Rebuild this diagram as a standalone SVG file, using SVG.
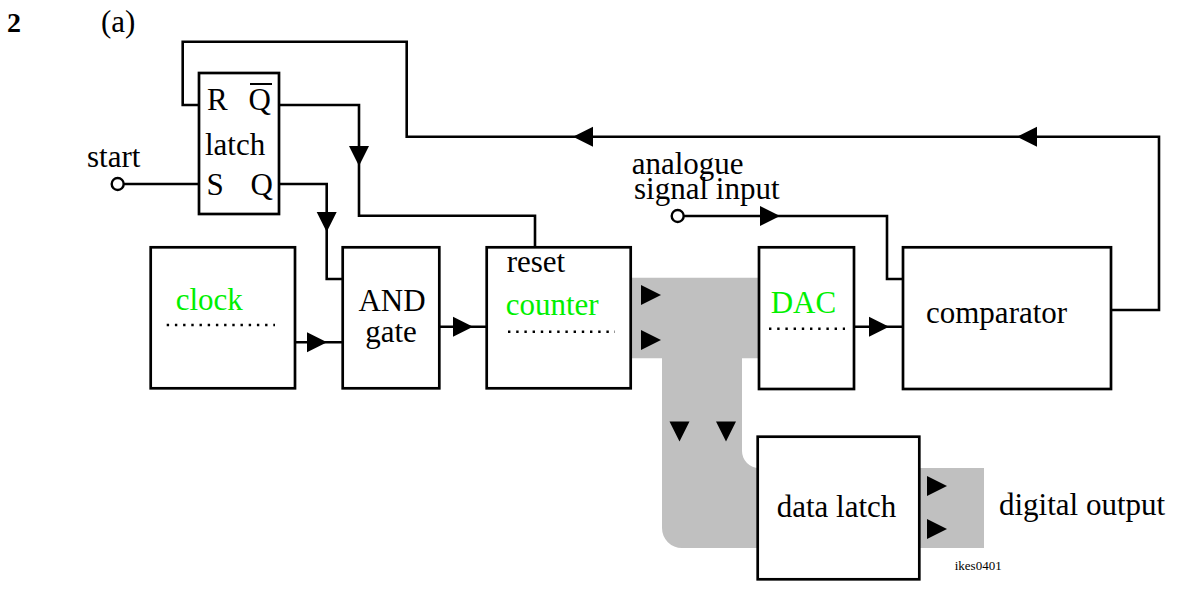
<svg xmlns="http://www.w3.org/2000/svg" xmlns:xlink="http://www.w3.org/1999/xlink" width="1178" height="592" viewBox="0 0 1178 592">
  <style>
    .box { fill: #ffffff; stroke: #000000; stroke-width: 2.7; }
    .wire { fill: none; stroke: #000000; stroke-width: 2.6; }
    .term { fill: #ffffff; stroke: #000000; stroke-width: 2.4; }
    .dots { fill: none; stroke: #000000; stroke-width: 2.4; stroke-dasharray: 2.4 5.8; }
    .bus { fill: #c0c0c0; stroke: none; }
    text { font-family: 'Liberation Serif', 'DejaVu Serif', serif; font-size: 31px; fill: #000000; }
    .g { fill: #00f000; }
    .small { font-size: 13px; }
    .bold { font-weight: bold; font-size: 28px; }
  </style>
  <defs>
    <!-- arrowhead pointing right, tip at origin -->
    <path id="ah" d="M0 0 L-20 -10 L-20 10 Z" fill="#000000"/>
  </defs>

  <!-- heading -->
  <text class="bold" x="7" y="32">2</text>
  <text x="101" y="32">(a)</text>

  <!-- data bus (grey) -->
  <g id="bus">
    <path class="bus" d="M630 277.7 H759 V358.3 H742 V451 A17 17 0 0 0 759 468 H984 V548 H682 A20 20 0 0 1 662 528 V358.3 H630 Z"/>
    <use xlink:href="#ah" transform="translate(661,295)"/>
    <use xlink:href="#ah" transform="translate(661,340)"/>
    <use xlink:href="#ah" transform="translate(679.5,441.5) rotate(90)"/>
    <use xlink:href="#ah" transform="translate(726,441.5) rotate(90)"/>
    <use xlink:href="#ah" transform="translate(947,486)"/>
    <use xlink:href="#ah" transform="translate(947,529)"/>
  </g>

  <!-- connectors -->
  <g id="connectors">
    <!-- comparator output feeding back to latch R -->
    <path class="wire" d="M1111 310 H1159 V136.7 H406.7 V41.7 H182.7 V105 H199"/>
    <use xlink:href="#ah" transform="translate(1017,136.7) rotate(180)"/>
    <use xlink:href="#ah" transform="translate(573,136.7) rotate(180)"/>
    <!-- Q-bar to counter reset -->
    <path class="wire" d="M279 105 H359 V215.7 H535 V247"/>
    <use xlink:href="#ah" transform="translate(359,166) rotate(90)"/>
    <!-- Q to AND gate -->
    <path class="wire" d="M279 184 H326.7 V279 H342.7"/>
    <use xlink:href="#ah" transform="translate(326.7,232) rotate(90)"/>
    <!-- start input -->
    <path class="wire" d="M124 184 H199"/>
    <circle class="term" cx="117.7" cy="184" r="6"/>
    <!-- clock to AND -->
    <path class="wire" d="M295 342.3 H342.7"/>
    <use xlink:href="#ah" transform="translate(327,342.3)"/>
    <!-- AND to counter -->
    <path class="wire" d="M439.3 326.7 H486.7"/>
    <use xlink:href="#ah" transform="translate(473,326.7)"/>
    <!-- DAC to comparator -->
    <path class="wire" d="M854 326.7 H903"/>
    <use xlink:href="#ah" transform="translate(889,326.7)"/>
    <!-- analogue input to comparator -->
    <path class="wire" d="M684 216 H887 V279 H903"/>
    <circle class="term" cx="677.7" cy="216" r="6"/>
    <use xlink:href="#ah" transform="translate(780,216)"/>
  </g>

  <!-- RS latch -->
  <g id="latch">
    <rect class="box" x="199" y="73" width="80" height="141"/>
    <text x="207" y="110">R</text>
    <text x="248.5" y="110">Q</text>
    <line x1="250" y1="84" x2="272" y2="84" stroke="#000000" stroke-width="2"/>
    <text x="205" y="155">latch</text>
    <text x="206.5" y="195">S</text>
    <text x="250.5" y="195">Q</text>
  </g>
  <g id="start-label">
    <text x="87" y="167">start</text>
  </g>

  <!-- clock -->
  <g id="clock">
    <rect class="box" x="150.7" y="247.3" width="144.3" height="141"/>
    <text class="g" x="175.7" y="310">clock</text>
    <line class="dots" x1="166.7" y1="325" x2="275" y2="325"/>
  </g>

  <!-- AND gate -->
  <g id="and-gate">
    <rect class="box" x="342.7" y="247.3" width="96.6" height="141"/>
    <text x="392" y="310.7" text-anchor="middle">AND</text>
    <text x="391" y="341.7" text-anchor="middle">gate</text>
  </g>

  <!-- counter -->
  <g id="counter">
    <rect class="box" x="486.7" y="247.3" width="144" height="141"/>
    <text x="506.7" y="272">reset</text>
    <text class="g" x="505.7" y="315">counter</text>
    <line class="dots" x1="508" y1="331.7" x2="615" y2="331.7"/>
  </g>

  <!-- DAC -->
  <g id="dac">
    <rect class="box" x="759" y="247.3" width="95" height="141.7"/>
    <text class="g" x="770.7" y="312.7">DAC</text>
    <line class="dots" x1="769" y1="328.7" x2="845" y2="328.7"/>
  </g>

  <!-- comparator -->
  <g id="comparator">
    <rect class="box" x="903" y="247.3" width="208" height="141.7"/>
    <text x="926" y="322.7">comparator</text>
  </g>

  <!-- analogue input label -->
  <g id="analogue-input">
    <text x="631.7" y="174.3">analogue</text>
    <text x="634" y="199.3">signal input</text>
  </g>

  <!-- data latch -->
  <g id="data-latch">
    <rect class="box" x="757.7" y="436.7" width="161.6" height="142.6"/>
    <text x="776.7" y="516.7">data latch</text>
  </g>

  <g id="digital-output">
    <text x="999" y="515">digital output</text>
  </g>

  <text class="small" x="1001.7" y="570" text-anchor="end">ikes0401</text>
</svg>
